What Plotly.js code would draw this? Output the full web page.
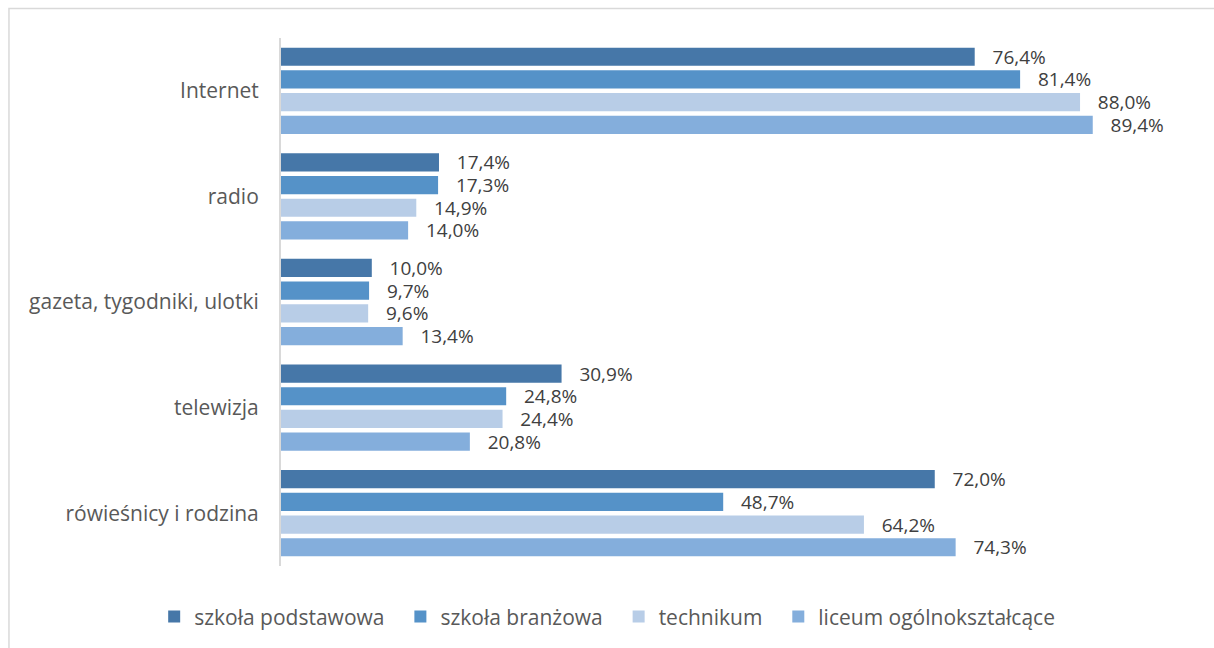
<!DOCTYPE html>
<html>
<head>
<meta charset="utf-8">
<script src="https://cdn.plot.ly/plotly-3.0.1.min.js"></script>
<style>
html,body{margin:0;padding:0;background:#fff;}
#chart{width:1214px;height:648px;}
</style>
</head>
<body>
<div id="chart"></div>
<script>
const categories = ["Internet", "radio", "gazeta, tygodniki, ulotki", "telewizja", "rówieśnicy i rodzina"];
const seriesNames = ["szkoła podstawowa", "szkoła branżowa", "technikum", "liceum ogólnokształcące"];
const szkolaPodstawowa = [76.4, 17.4, 10.0, 30.9, 72.0];
const szkolaBranzowa = [81.4, 17.3, 9.7, 24.8, 48.7];
const technikum = [88.0, 14.9, 9.6, 24.4, 64.2];
const liceum = [89.4, 14.0, 13.4, 20.8, 74.3];
const colors = ["#4677A8", "#5592C8", "#B8CDE7", "#84AEDC"];

const allValues = [szkolaPodstawowa, szkolaBranzowa, technikum, liceum];
const pad = "\u00a0\u00a0";
const traces = allValues.map((vals, i) => ({
  type: "bar",
  orientation: "h",
  name: seriesNames[i] + (i < 3 ? pad : ""),
  x: vals,
  y: categories,
  marker: {color: colors[i]},
  texttemplate: "   %{x:.1f}%",
  textposition: "outside",
  constraintext: "none",
  cliponaxis: false,
  textfont: {family: "Open Sans, sans-serif", size: 19, color: "#404040"},
  hoverinfo: "none"
}));

const layout = {
  width: 1214,
  height: 648,
  margin: {l: 281, r: 25, t: 38, b: 82},
  paper_bgcolor: "#fff",
  plot_bgcolor: "#fff",
  separators: ", ",
  barmode: "group",
  bargap: 0.14,
  bargroupgap: 0.2,
  font: {family: "Open Sans, sans-serif", size: 21, color: "#595959"},
  xaxis: {range: [0, 100], showgrid: false, zeroline: false, showticklabels: false, showline: false, ticks: ""},
  yaxis: {autorange: "reversed", showline: true, linecolor: "#D9D9D9", linewidth: 2, ticks: "", ticklabelstandoff: 16,
          tickfont: {size: 21, color: "#595959"}, showgrid: false, zeroline: false},
  showlegend: true,
  legend: {orientation: "h", xref: "container", yref: "container", x: 0.127, xanchor: "left", y: 0.048, yanchor: "middle",
           font: {size: 21, color: "#595959"}, traceorder: "normal", itemwidth: 30},
  shapes: [{type: "rect", xref: "paper", yref: "paper", x0: -0.2996, x1: 1.05, y0: -0.2, y1: 1.0559,
            line: {color: "#D9D9D9", width: 1.5}, fillcolor: "rgba(0,0,0,0)", layer: "below"}]
};

Plotly.newPlot("chart", traces, layout, {staticPlot: true});
</script>
</body>
</html>
